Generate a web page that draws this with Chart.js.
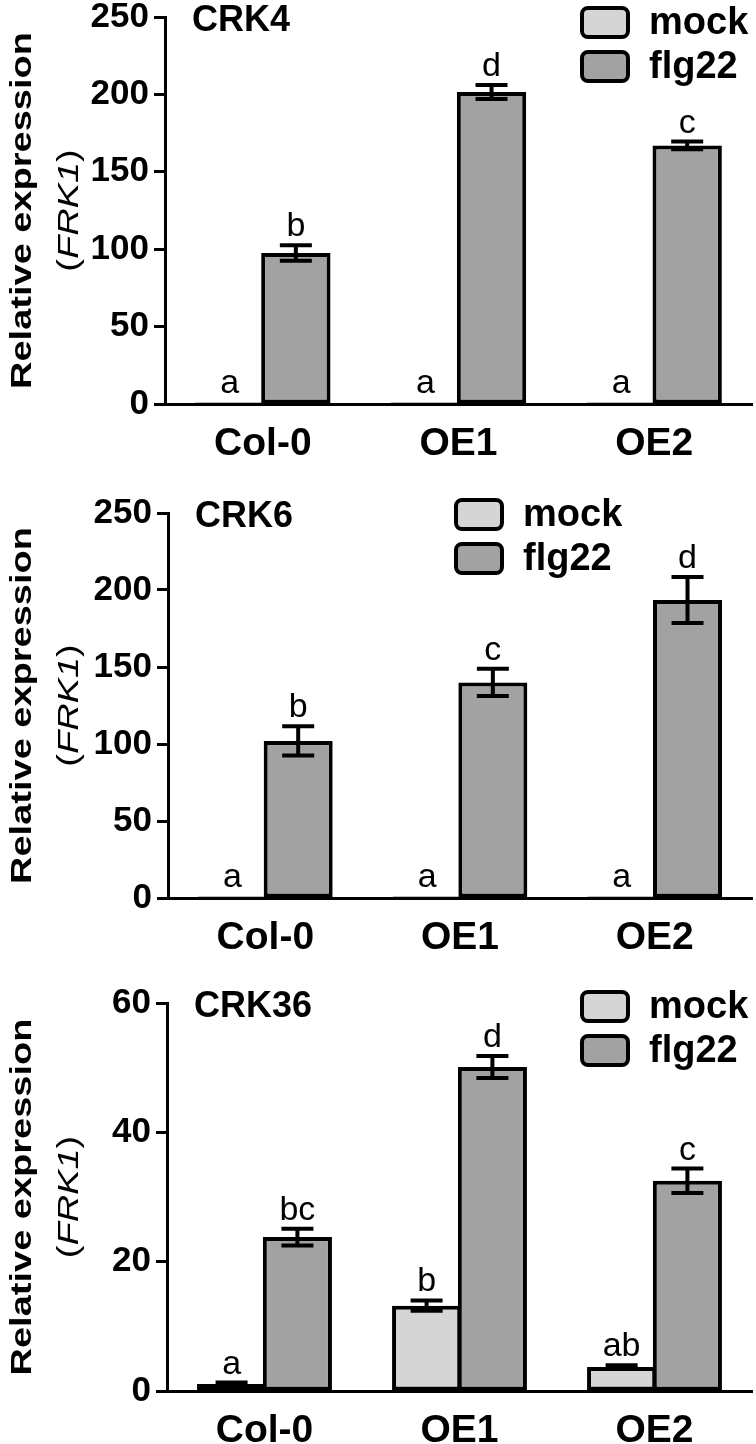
<!DOCTYPE html>
<html>
<head>
<meta charset="utf-8">
<script src="https://cdn.jsdelivr.net/npm/chart.js@4.4.1/dist/chart.umd.min.js"></script>
<style>
  html, body { margin: 0; padding: 0; background: #fff; }
  .panel { position: relative; width: 756px; }
</style>
</head>
<body>
<div class="panel" style="height:481px"><canvas id="crk4"></canvas></div>
<div class="panel" style="height:481px"><canvas id="crk6"></canvas></div>
<div class="panel" style="height:482px"><canvas id="crk36"></canvas></div>
<script>
// ---- data ----
const groups = ["Col-0", "OE1", "OE2"];
const seriesNames = ["mock", "flg22"];

const crk4Mock = [1, 1, 1];
const crk4MockErr = [0.2, 0.2, 0.2];
const crk4Flg22 = [97.5, 201.5, 167];
const crk4Flg22Err = [5, 4.5, 2.5];
const crk4MockLetters = ["a", "a", "a"];
const crk4Flg22Letters = ["b", "d", "c"];
const crk4Ticks = [0, 50, 100, 150, 200, 250];

const crk6Mock = [1, 1, 1];
const crk6MockErr = [0.2, 0.2, 0.2];
const crk6Flg22 = [102, 140, 193.5];
const crk6Flg22Err = [9.5, 8.8, 15];
const crk6MockLetters = ["a", "a", "a"];
const crk6Flg22Letters = ["b", "c", "d"];
const crk6Ticks = [0, 50, 100, 150, 200, 250];

const crk36Mock = [1.1, 13.2, 3.7];
const crk36MockErr = [0.2, 0.8, 0.3];
const crk36Flg22 = [23.8, 50.1, 32.5];
const crk36Flg22Err = [1.3, 1.7, 1.9];
const crk36MockLetters = ["a", "b", "ab"];
const crk36Flg22Letters = ["bc", "d", "c"];
const crk36Ticks = [0, 20, 40, 60];

const FONT = "'Liberation Sans', Arial, Helvetica, sans-serif";
const MOCK_FILL = "#d5d5d5";
const FLG_FILL = "#a2a2a2";

// error bars, letters, legend, panel title, y title
const decoPlugin = {
  id: "deco",
  afterDatasetsDraw(chart) {
    const ctx = chart.ctx;
    const y = chart.scales.y;
    ctx.save();
    ctx.strokeStyle = "#000";
    ctx.fillStyle = "#000";
    chart.data.datasets.forEach((ds, di) => {
      chart.getDatasetMeta(di).data.forEach((bar, i) => {
        const v = ds.data[i], e = ds.errors[i];
        const yTop = y.getPixelForValue(v + e);
        const yBot = y.getPixelForValue(Math.max(v - e, 0));
        if (yBot - yTop > 1) {
          ctx.lineWidth = 4;
          ctx.beginPath();
          ctx.moveTo(bar.x, yTop); ctx.lineTo(bar.x, yBot);
          ctx.moveTo(bar.x - 16, yTop); ctx.lineTo(bar.x + 16, yTop);
          ctx.moveTo(bar.x - 16, yBot); ctx.lineTo(bar.x + 16, yBot);
          ctx.stroke();
        }
        ctx.font = `34px ${FONT}`;
        ctx.textAlign = "center";
        ctx.textBaseline = "alphabetic";
        ctx.fillText(ds.letters[i], bar.x, Math.min(yTop, bar.y) - 9);
      });
    });
    ctx.restore();
  },
  afterDraw(chart, args, opts) {
    const ctx = chart.ctx;
    const area = chart.chartArea;
    ctx.save();
    ctx.fillStyle = "#000";

    // panel title
    ctx.font = `bold 36px ${FONT}`;
    ctx.textAlign = "left";
    ctx.textBaseline = "middle";
    ctx.fillText(opts.title, area.left + 27, area.top + 4);

    // legend
    chart.data.datasets.forEach((ds, i) => {
      const bx = opts.legendX, by = opts.legendY + i * 44;
      ctx.beginPath();
      ctx.roundRect(bx, by, 46, 29, 6);
      ctx.fillStyle = ds.backgroundColor;
      ctx.fill();
      ctx.lineWidth = 4;
      ctx.strokeStyle = "#000";
      ctx.stroke();
      ctx.fillStyle = "#000";
      ctx.font = `bold 38px ${FONT}`;
      ctx.textBaseline = "middle";
      ctx.fillText(ds.label, bx + 67, by + 16);
    });

    // y axis title (glyphs a little narrow, as in the figure)
    const cy = (area.top + area.bottom) / 2;
    ctx.translate(0, cy);
    ctx.rotate(-Math.PI / 2);
    ctx.scale(1, 0.8);
    ctx.textBaseline = "middle";
    ctx.textAlign = "center";
    ctx.font = `bold 38px ${FONT}`;
    ctx.fillText("Relative expression", 0, 23 / 0.8);
    const parts = [["(", `38px ${FONT}`], ["FRK1", `italic 38px ${FONT}`], [")", `38px ${FONT}`]];
    let total = 0;
    parts.forEach(p => { ctx.font = p[1]; total += ctx.measureText(p[0]).width; });
    let x = -total / 2;
    ctx.textAlign = "left";
    parts.forEach(p => { ctx.font = p[1]; ctx.fillText(p[0], x, 70 / 0.8); x += ctx.measureText(p[0]).width; });
    ctx.restore();
  }
};

function makePanel(p) {
  const bar = {
    borderColor: "#000",
    borderWidth: 4,
    borderSkipped: false,
    categoryPercentage: 0.675,
    barPercentage: 1.05
  };
  new Chart(document.getElementById(p.id), {
    type: "bar",
    data: {
      labels: groups,
      datasets: [
        Object.assign({ label: seriesNames[0], data: p.mock, errors: p.mockErr, letters: p.mockLetters, backgroundColor: MOCK_FILL }, bar),
        Object.assign({ label: seriesNames[1], data: p.flg, errors: p.flgErr, letters: p.flgLetters, backgroundColor: FLG_FILL }, bar)
      ]
    },
    options: {
      responsive: true,
      maintainAspectRatio: false,
      animation: false,
      devicePixelRatio: 1,
      layout: { padding: { top: p.top, right: 4, left: 0, bottom: 0 } },
      plugins: {
        legend: { display: false },
        tooltip: { enabled: false },
        deco: { title: p.title, legendX: p.legendX, legendY: p.legendY }
      },
      scales: {
        x: {
          grid: { display: false, drawTicks: false },
          border: { display: true, color: "#000", width: 3 },
          ticks: { color: "#000", padding: 17, font: { family: FONT, size: 39, weight: "bold" } },
          afterFit: s => { s.height = p.xHeight; s.paddingLeft = 0; s.paddingRight = 0; }
        },
        y: {
          min: p.ticks[0],
          max: p.ticks[p.ticks.length - 1],
          ticks: { stepSize: p.ticks[1] - p.ticks[0], color: "#000", padding: 5, font: { family: FONT, size: 35, weight: "bold" } },
          grid: { drawOnChartArea: false, drawTicks: true, tickLength: 11, tickWidth: 3, tickColor: "#000" },
          border: { display: true, color: "#000", width: 3 },
          afterFit: s => { s.width = p.axisX; s.paddingTop = 0; s.paddingBottom = 0; }
        }
      }
    },
    plugins: [decoPlugin]
  });
}

makePanel({ id: "crk4", title: "CRK4", mock: crk4Mock, mockErr: crk4MockErr, flg: crk4Flg22, flgErr: crk4Flg22Err,
  mockLetters: crk4MockLetters, flgLetters: crk4Flg22Letters, ticks: crk4Ticks,
  axisX: 165, top: 17, xHeight: 77, legendX: 582, legendY: 8 });
makePanel({ id: "crk6", title: "CRK6", mock: crk6Mock, mockErr: crk6MockErr, flg: crk6Flg22, flgErr: crk6Flg22Err,
  mockLetters: crk6MockLetters, flgLetters: crk6Flg22Letters, ticks: crk6Ticks,
  axisX: 168, top: 32, xHeight: 64, legendX: 456, legendY: 19 });
makePanel({ id: "crk36", title: "CRK36", mock: crk36Mock, mockErr: crk36MockErr, flg: crk36Flg22, flgErr: crk36Flg22Err,
  mockLetters: crk36MockLetters, flgLetters: crk36Flg22Letters, ticks: crk36Ticks,
  axisX: 167, top: 41, xHeight: 53, legendX: 582, legendY: 30 });
</script>
</body>
</html>
